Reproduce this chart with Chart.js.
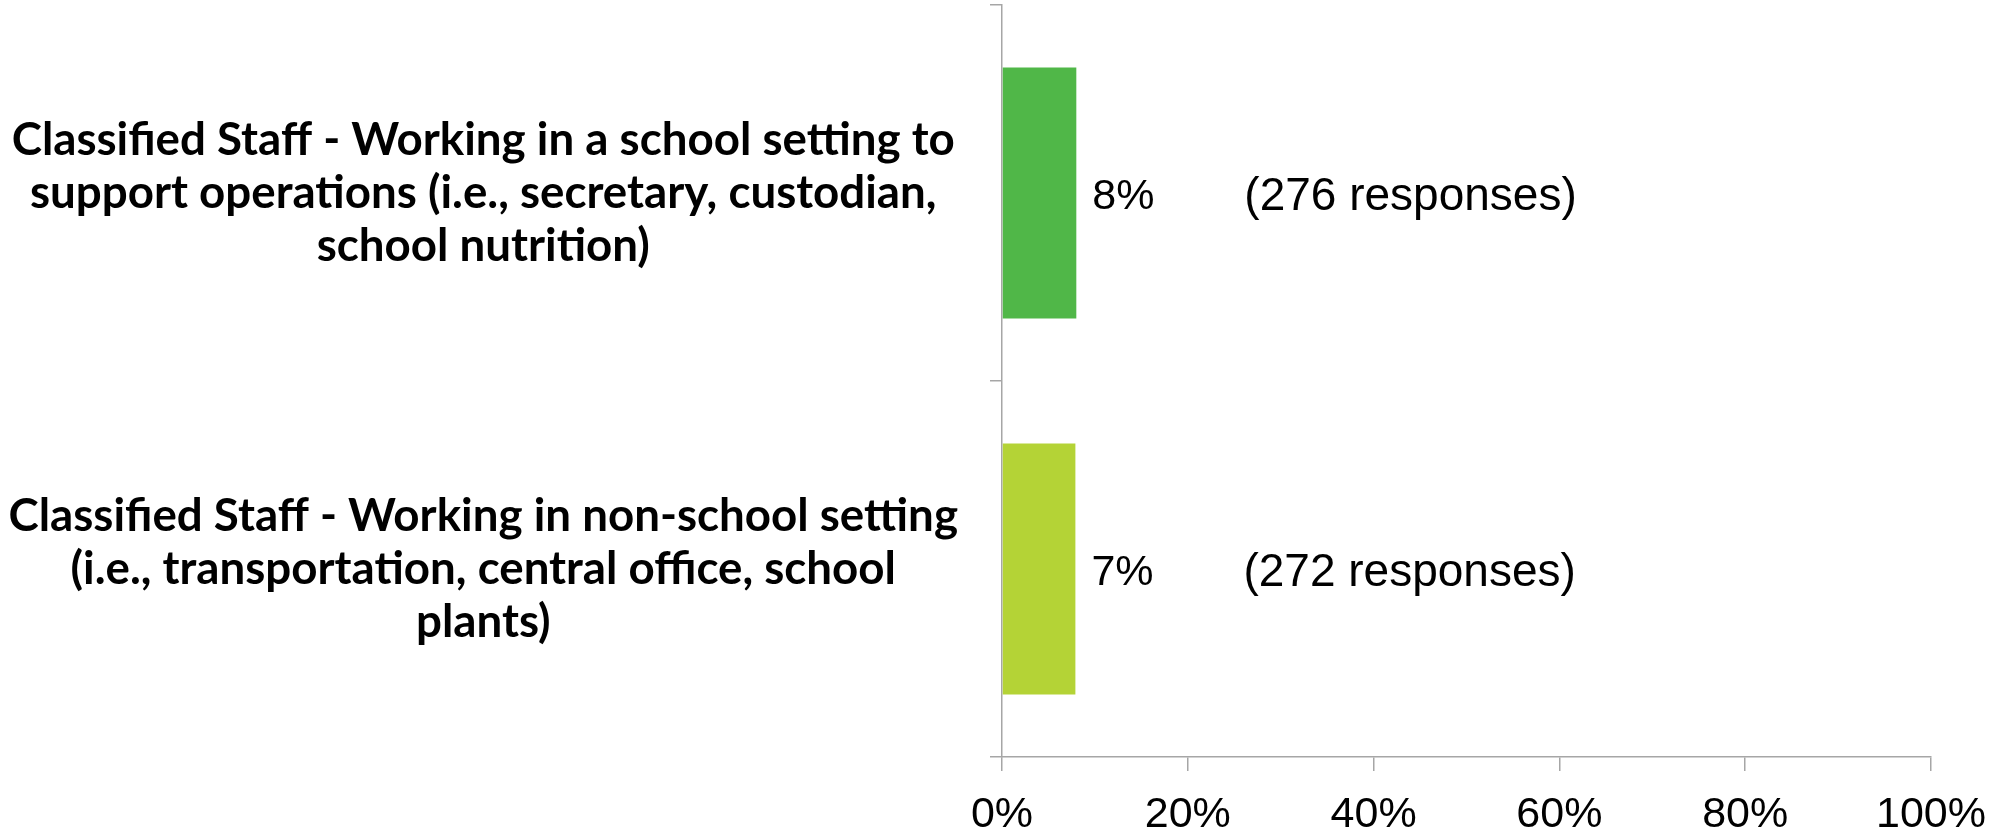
<!DOCTYPE html>
<html>
<head>
<meta charset="utf-8">
<script src="https://cdn.jsdelivr.net/npm/chart.js@4.4.1/dist/chart.umd.min.js"></script>
<style>
  html, body { margin: 0; padding: 0; background: #fff; }
  #wrap { width: 1995px; height: 836px; position: relative; }
</style>
</head>
<body>
<div id="wrap"><canvas id="staffChart"></canvas></div>
<script>
// Dados
const categories = [
    ['Classified Staff - Working in a school setting to', 'support operations (i.e., secretary, custodian,', 'school nutrition)'],
    ['Classified Staff - Working in non-school setting', '(i.e., transportation, central office, school', 'plants)']
];
const percentValues = [8.0, 7.9];
const percentLabels = ['8%', '7%'];
const responseCounts = [276, 272];
const xTicks = [0, 20, 40, 60, 80, 100];
const barColors = ['#50B748', '#B4D336'];

// Fonte das categorias: ajusta o tamanho para a linha mais larga caber em ~950px
const catFamily = 'Lato, "Liberation Sans", sans-serif';
function fitCategoryFont() {
    const c = document.createElement('canvas').getContext('2d');
    c.font = 'bold 100px ' + catFamily;
    let widest = 0;
    categories.forEach(lines => lines.forEach(l => { widest = Math.max(widest, c.measureText(l).width); }));
    return Math.min(46, Math.floor(100 * 950 / widest * 10) / 10);
}

// Escreve o percentual e o número de respostas ao lado de cada barra
const barLabels = {
    id: 'barLabels',
    afterDatasetsDraw(chart) {
        const ctx = chart.ctx;
        const meta = chart.getDatasetMeta(0);
        ctx.save();
        ctx.fillStyle = '#000';
        ctx.textBaseline = 'middle';
        ctx.textAlign = 'left';
        meta.data.forEach((bar, i) => {
            ctx.font = '43px "Liberation Sans", Arial, sans-serif';
            ctx.fillText(percentLabels[i], bar.x + 16, bar.y + 4);
            ctx.font = '46px "Liberation Sans", Arial, sans-serif';
            ctx.fillText('(' + responseCounts[i] + ' responses)', bar.x + 168, bar.y + 4);
        });
        ctx.restore();
    }
};

document.addEventListener('DOMContentLoaded', function () {
    const catSize = fitCategoryFont();
    const ctx = document.getElementById('staffChart').getContext('2d');
    new Chart(ctx, {
        type: 'bar',
        data: {
            labels: categories,
            datasets: [{
                data: percentValues,
                backgroundColor: barColors,
                borderWidth: 0,
                categoryPercentage: 1,
                barPercentage: 0.667
            }]
        },
        options: {
            indexAxis: 'y',
            responsive: true,
            maintainAspectRatio: false,
            animation: false,
            layout: { padding: { top: 5, right: 64, left: 8, bottom: 0 } },
            plugins: {
                legend: { display: false },
                tooltip: { enabled: false }
            },
            scales: {
                x: {
                    min: 0,
                    max: 100,
                    afterBuildTicks: s => { s.ticks = xTicks.map(v => ({ value: v })); },
                    afterFit: s => { s.height = 79; s.paddingLeft = 0; s.paddingRight = 0; },
                    border: { display: true, color: '#A6A6A6', width: 1.5 },
                    grid: { drawOnChartArea: false, drawTicks: true, tickLength: 14, color: '#A6A6A6', lineWidth: 1.5 },
                    ticks: {
                        color: '#000',
                        padding: 18,
                        maxRotation: 0,
                        font: { family: '"Liberation Sans", Arial, sans-serif', size: 43 },
                        callback: v => v + '%'
                    }
                },
                y: {
                    afterFit: s => { s.width = 994; s.paddingTop = 0; s.paddingBottom = 0; },
                    border: { display: true, color: '#A6A6A6', width: 1.5 },
                    grid: { drawOnChartArea: false, drawTicks: true, tickLength: 12, color: '#A6A6A6', lineWidth: 1.5 },
                    ticks: {
                        color: '#000',
                        padding: 32,
                        crossAlign: 'center',
                        font: { family: catFamily, size: catSize, weight: 'bold', lineHeight: 53 / catSize }
                    }
                }
            }
        },
        plugins: [barLabels]
    });
});
</script>
</body>
</html>
